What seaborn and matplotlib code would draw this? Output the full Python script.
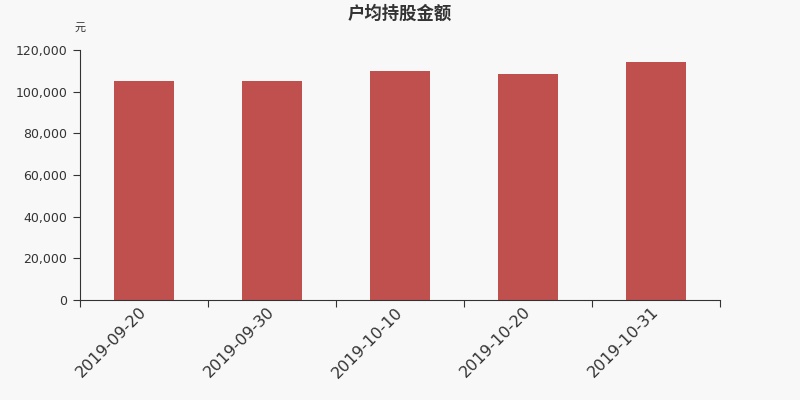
import matplotlib.pyplot as plt
import seaborn as sns
import pandas as pd
from matplotlib.ticker import FuncFormatter

dates = ['2019-09-20', '2019-09-30', '2019-10-10', '2019-10-20', '2019-10-31']
amount = [105300, 105000, 109900, 108500, 114200]

df = pd.DataFrame({'date': dates, 'amount': amount})

sns.set_style('ticks')
plt.rcParams['font.family'] = ['Noto Sans CJK SC', 'DejaVu Sans']

bg = '#f8f8f8'
txt = '#333333'

fig = plt.figure(figsize=(8, 4), dpi=100, facecolor=bg)
ax = fig.add_axes([0.1, 0.25, 0.8, 0.625], facecolor=bg)

sns.barplot(x='date', y='amount', data=df, color='#c0504e', saturation=1,
            width=0.47, linewidth=0, ax=ax)

ax.set_xlim(-0.5, 4.5)
ax.set_ylim(0, 120000)
ax.set_yticks(range(0, 120001, 20000))
ax.yaxis.set_major_formatter(FuncFormatter(lambda v, p: f'{int(v):,}'))
ax.set_xticks([i - 0.5 for i in range(6)], minor=False)
ax.set_xticklabels([])
ax.set_xticks(range(5), minor=True)
ax.set_xticklabels(dates, minor=True, rotation=45, ha='right', va='center',
                   rotation_mode='anchor', fontsize=11.5, color=txt,
                   family=['DejaVu Sans'])
ax.tick_params(axis='x', which='minor', length=0, pad=7)
ax.tick_params(axis='x', which='major', length=5, color=txt)
ax.tick_params(axis='y', length=5, color=txt, labelsize=9, labelcolor=txt, pad=4)
for lbl in ax.get_yticklabels():
    lbl.set_family(['DejaVu Sans'])

ax.set_xlabel('')
ax.set_ylabel('')
sns.despine(ax=ax)
ax.spines['left'].set_color(txt)
ax.spines['bottom'].set_color(txt)

fig.text(0.5, 0.965, '户均持股金额', ha='center', va='center', fontsize=12.5,
         fontweight='bold', color=txt)
fig.text(0.1, 0.93, '元', ha='center', va='center', fontsize=8, color=txt)

plt.savefig('out.png', dpi=100, facecolor=bg)
